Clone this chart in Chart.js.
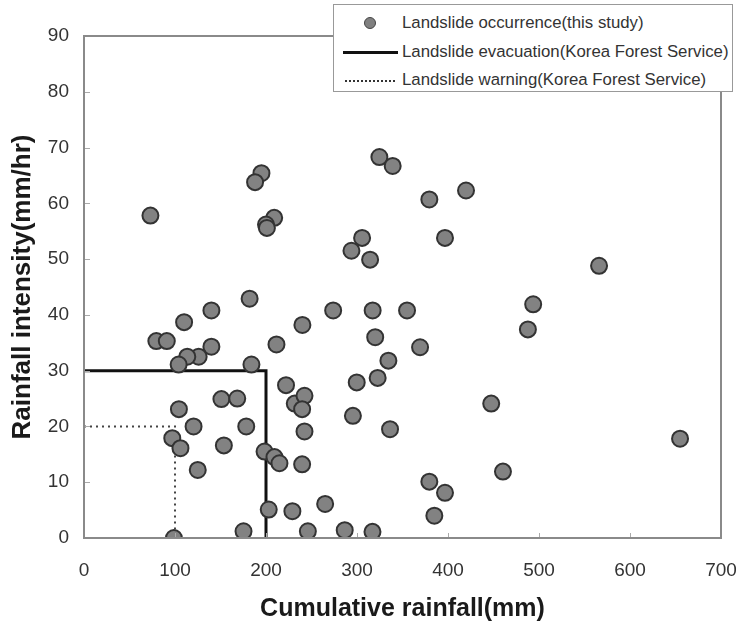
<!DOCTYPE html>
<html>
<head>
<meta charset="utf-8">
<script src="https://cdn.jsdelivr.net/npm/chart.js@4.4.0/dist/chart.umd.min.js"></script>
<style>
body{margin:0;background:#fff;}
#wrap{position:relative;width:736px;height:629px;}
#legend{position:absolute;left:333px;top:4px;width:398px;height:86px;border:1px solid #999;background:#fff;
  font-family:"Liberation Sans",Arial,sans-serif;font-size:16.8px;color:#333;}
#legend .row{position:absolute;left:0;height:20px;line-height:20px;width:100%;}
#legend .txt{position:absolute;left:68px;top:0;white-space:nowrap;}
#legend .dot{position:absolute;left:30px;top:4px;width:10px;height:10px;border-radius:50%;background:#808080;border:1px solid #444;}
#legend .solid{position:absolute;left:9px;top:9px;width:55px;border-top:3px solid #111;}
#legend .dash{position:absolute;left:11px;top:10px;width:50px;border-top:2px dotted #333;}
</style>
</head>
<body>
<div id="wrap">
<canvas id="myChart" width="736" height="629"></canvas>
<div id="legend">
  <div class="row" style="top:8px"><span class="dot"></span><span class="txt">Landslide occurrence(this study)</span></div>
  <div class="row" style="top:37px"><span class="solid"></span><span class="txt">Landslide evacuation(Korea Forest Service)</span></div>
  <div class="row" style="top:65px"><span class="dash"></span><span class="txt">Landslide warning(Korea Forest Service)</span></div>
</div>
</div>
<script>
// landslide events: cumulative rainfall (mm) vs rainfall intensity (mm/hr)
var rainX = [73,195,188,209,200,201,182,140,110,240,79.5,91,140,126,113.5,104,184,211.5,222,231.6,
  242.3,239.7,242.3,239.7,151,168.4,104.3,120.4,178.3,97,106,153.7,125,198.4,209.3,214.8,203,229,98.8,175.3,
  246,324.6,339.2,379.5,419.8,305.6,293.9,314.4,396.7,273.8,317.2,355,320,369.3,334.5,322.7,299.7,295.5,336.3,447.5,
  460.4,379.5,396.7,385,265,286.5,317,566,493.6,487.8,655];
var rainY = [57.8,65.4,63.8,57.4,56.2,55.6,42.9,40.8,38.7,38.2,35.3,35.3,34.3,32.5,32.5,31.1,31.1,34.7,27.4,24.1,
  25.5,23.1,19.1,13.2,24.9,25,23.1,20,20,17.9,16.1,16.6,12.2,15.5,14.5,13.4,5.1,4.8,0,1.2,
  1.2,68.3,66.7,60.7,62.3,53.8,51.5,49.9,53.8,40.8,40.8,40.8,36,34.2,31.8,28.7,27.9,21.9,19.5,24.1,
  11.9,10.1,8.1,4,6.1,1.4,1.1,48.8,41.9,37.4,17.8];

// Korea Forest Service thresholds
var evacX = [0,200,200], evacY = [30,30,0];
var warnX = [0,100,100], warnY = [20,20,0];

var xTicks = [0,100,200,300,400,500,600,700];
var yTicks = [0,10,20,30,40,50,60,70,80,90];

function pts(xs, ys){
  var out = [];
  for(var i=0;i<xs.length;i++){ out.push({x:xs[i], y:ys[i]}); }
  return out;
}

// plot frame + inward tick marks
var framePlugin = {
  id:'frame',
  afterDatasetsDraw: function(chart){
    var c = chart.ctx, a = chart.chartArea;
    var sx = chart.scales.x, sy = chart.scales.y;
    c.save();
    c.strokeStyle = '#aaa';
    c.lineWidth = 1;
    xTicks.forEach(function(t){
      var px = Math.round(sx.getPixelForValue(t))+0.5;
      c.beginPath(); c.moveTo(px, a.bottom); c.lineTo(px, a.bottom-5); c.stroke();
    });
    yTicks.forEach(function(t){
      var py = Math.round(sy.getPixelForValue(t))+0.5;
      c.beginPath(); c.moveTo(a.left, py); c.lineTo(a.left+6, py); c.stroke();
    });
    c.strokeStyle = '#8a8a8a';
    c.lineWidth = 2;
    c.strokeRect(a.left, a.top, a.right-a.left, a.bottom-a.top);
    c.restore();
  }
};

Chart.defaults.font.family = '"Liberation Sans", Arial, sans-serif';

var ctx = document.getElementById('myChart').getContext('2d');
var myChart = new Chart(ctx, {
  type: 'scatter',
  data: {
    datasets: [{
      label: 'Landslide occurrence(this study)',
      data: pts(rainX, rainY),
      pointRadius: 8,
      pointBackgroundColor: '#828282',
      pointBorderColor: '#333',
      pointBorderWidth: 2,
      order: 0
    }, {
      label: 'Landslide evacuation(Korea Forest Service)',
      data: pts(evacX, evacY),
      showLine: true,
      borderColor: '#111',
      borderWidth: 3,
      pointRadius: 0,
      order: 1
    }, {
      label: 'Landslide warning(Korea Forest Service)',
      data: pts(warnX, warnY),
      showLine: true,
      borderColor: '#444',
      borderWidth: 2,
      borderDash: [2,4],
      pointRadius: 0,
      order: 2
    }]
  },
  options: {
    responsive: false,
    animation: false,
    events: [],
    layout: { padding: { left: 0, right: 15, top: 36, bottom: 0 } },
    plugins: { legend: { display: false }, tooltip: { enabled: false } },
    scales: {
      x: {
        type: 'linear', min: 0, max: 700,
        afterBuildTicks: function(s){ s.ticks = xTicks.map(function(v){ return {value:v}; }); },
        // let the "700" label run off the right edge like the original
        afterFit: function(s){ s.height = 91; s.paddingRight = 0; s.paddingLeft = 0; },
        grid: { display: false, drawTicks: false },
        border: { display: false },
        ticks: { color: '#333', font: { size: 19 }, padding: 21, maxRotation: 0 },
        title: { display: true, text: 'Cumulative rainfall(mm)', color: '#1a1a1a',
          font: { size: 25, weight: 'bold' }, padding: { top: 0, bottom: 5 } }
      },
      y: {
        type: 'linear', min: 0, max: 90,
        afterBuildTicks: function(s){ s.ticks = yTicks.map(function(v){ return {value:v}; }); },
        afterFit: function(s){ s.width = 84; s.paddingTop = 0; s.paddingBottom = 0; },
        grid: { display: false, drawTicks: false },
        border: { display: false },
        ticks: { color: '#333', font: { size: 19 }, padding: 15 },
        title: { display: true, text: 'Rainfall intensity(mm/hr)', color: '#1a1a1a',
          font: { size: 26, weight: 'bold' }, padding: { top: 7, bottom: 0 } }
      }
    }
  },
  plugins: [framePlugin]
});
</script>
</body>
</html>
